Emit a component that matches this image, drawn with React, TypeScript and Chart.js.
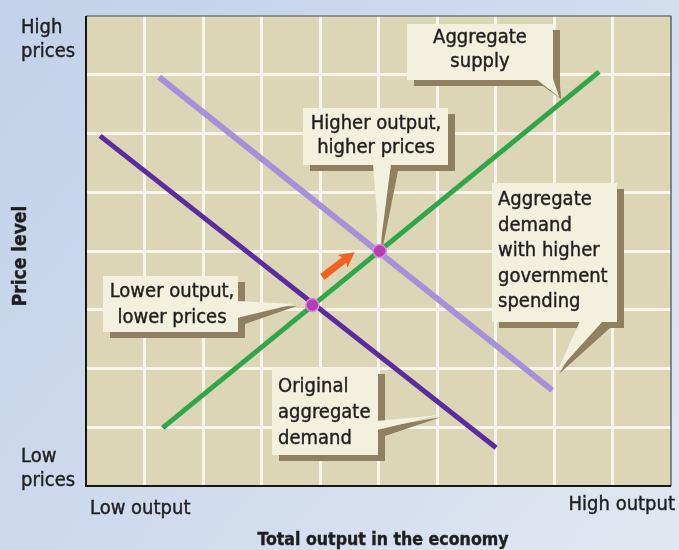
import React, { useEffect, useRef } from "react";
import { Chart, registerables } from "chart.js";

Chart.register(...registerables);

// ---- data (in chart units: output 0..10, price level 0..8) ----
const supplyX = [1.31, 8.77];
const supplyY = [0.99, 7.05];
const origDemandX = [0.24, 7.01];
const origDemandY = [5.96, 0.65];
const highDemandX = [1.25, 7.97];
const highDemandY = [6.96, 1.63];
const equilibriumX = [3.87, 5.02];
const equilibriumY = [3.08, 4.0];
const shiftArrowX = [4.04, 4.59];
const shiftArrowY = [3.56, 3.98];

const yAxisLabels = [["High", "prices"], ["Low", "prices"]];
const xAxisLabels = ["Low output", "High output"];
const xTitle = "Total output in the economy";
const yTitle = "Price level";

const calloutTexts = [
  ["Aggregate", "supply"],
  ["Higher output,", "higher prices"],
  ["Lower output,", "lower prices"],
  ["Aggregate", "demand", "with higher", "government", "spending"],
  ["Original", "aggregate", "demand"],
];
const calloutTipX = [8.09, 5.02, 3.57, 8.05, 6.04];
const calloutTipY = [6.62, 4.0, 3.1, 1.94, 1.21];

// ---- layout (pixels) ----
const calloutLayout = [
  { box: [407, 24, 553, 80], align: "center", tx: 480, by: 43, gap: 24, base: [[536, 80], [553, 80]] },
  { box: [303, 108, 448, 165], align: "center", tx: 376, by: 129, gap: 24, base: [[373, 165], [391, 165]] },
  { box: [103, 276, 238, 332], align: "center", tx: 172, by: 297, gap: 26, base: [[238, 301], [238, 318]] },
  { box: [492, 183, 617, 322], align: "left", tx: 498, by: 205, gap: 25.5, base: [[580, 322], [603, 322]] },
  { box: [272, 368, 378, 455], align: "left", tx: 278, by: 392, gap: 26, base: [[378, 421], [378, 430]] },
];

const FONT = "'Liberation Sans Narrow', 'DejaVu Sans Condensed', 'Liberation Sans', sans-serif";
const TEXT_COLOR = "#1f1f1f";

const pts = (xs: number[], ys: number[]) => xs.map((x, i) => ({ x, y: ys[i] }));

const drawText = (ctx: CanvasRenderingContext2D, s: string, x: number, y: number) => {
  ctx.fillText(s, x, y);
  ctx.strokeText(s, x, y);
};

const decorPlugin = {
  id: "decor",
  beforeDraw(chart: any) {
    const { ctx, width, height, chartArea: a } = chart;
    ctx.save();
    const g = ctx.createLinearGradient(0, 0, width, height);
    g.addColorStop(0, "#c2d2ea");
    g.addColorStop(0.6, "#d2ddee");
    g.addColorStop(1, "#e2e8f1");
    ctx.fillStyle = g;
    ctx.fillRect(0, 0, width, height);
    ctx.fillStyle = "#dcd5b6";
    ctx.fillRect(a.left, a.top, a.right - a.left, a.bottom - a.top);
    ctx.restore();
  },
  beforeDatasetsDraw(chart: any) {
    const { ctx, scales } = chart;
    const xs = scales.x, ys = scales.y;
    ctx.save();
    calloutLayout.forEach((c, i) => {
      const tip = [xs.getPixelForValue(calloutTipX[i]), ys.getPixelForValue(calloutTipY[i])];
      const [l, t, r, b] = c.box;
      const horiz = c.base[0][1] === c.base[1][1];
      ctx.fillStyle = "#8e8060";
      ctx.beginPath();
      ctx.rect(l + 7, t + 6, r - l, b - t);
      ctx.moveTo(c.base[0][0] + 7, c.base[0][1] + 6);
      ctx.lineTo(tip[0] + 2, tip[1] + 2);
      ctx.lineTo(c.base[1][0] + 7, c.base[1][1] + 6);
      ctx.closePath();
      ctx.fill();
      ctx.fillStyle = "#f3f0de";
      ctx.beginPath();
      ctx.rect(l, t, r - l, b - t);
      ctx.fill();
      ctx.beginPath();
      ctx.moveTo(c.base[0][0] - (horiz ? 0 : 1), c.base[0][1] - (horiz ? 1 : 0));
      ctx.lineTo(tip[0], tip[1]);
      ctx.lineTo(c.base[1][0] - (horiz ? 0 : 1), c.base[1][1] - (horiz ? 1 : 0));
      ctx.closePath();
      ctx.fill();
      ctx.fillStyle = TEXT_COLOR;
      ctx.strokeStyle = TEXT_COLOR;
      ctx.lineWidth = 0.4;
      ctx.font = `20px ${FONT}`;
      ctx.textAlign = c.align;
      ctx.textBaseline = "alphabetic";
      calloutTexts[i].forEach((line, k) => {
        drawText(ctx, line, c.tx, c.by + k * c.gap);
      });
    });
    ctx.restore();
  },
  afterDraw(chart: any) {
    const { ctx, chartArea: a, scales } = chart;
    const xs = scales.x, ys = scales.y;
    ctx.save();
    // frame
    ctx.strokeStyle = "#4a4a48";
    ctx.lineWidth = 1.2;
    ctx.beginPath();
    ctx.moveTo(a.left, a.top);
    ctx.lineTo(a.right, a.top);
    ctx.lineTo(a.right, a.bottom);
    ctx.stroke();
    ctx.strokeStyle = "#151515";
    ctx.lineWidth = 2;
    ctx.beginPath();
    ctx.moveTo(a.left, a.top);
    ctx.lineTo(a.left, a.bottom);
    ctx.lineTo(a.right, a.bottom);
    ctx.stroke();

    // shift arrow
    const x0 = xs.getPixelForValue(shiftArrowX[0]);
    const y0 = ys.getPixelForValue(shiftArrowY[0]);
    const x1 = xs.getPixelForValue(shiftArrowX[1]);
    const y1 = ys.getPixelForValue(shiftArrowY[1]);
    const ang = Math.atan2(y1 - y0, x1 - x0);
    const len = Math.hypot(x1 - x0, y1 - y0);
    ctx.translate(x0, y0);
    ctx.rotate(ang);
    ctx.fillStyle = "#f0621f";
    ctx.beginPath();
    ctx.moveTo(0, -3.5);
    ctx.lineTo(len - 13, -3.5);
    ctx.lineTo(len - 15, -8);
    ctx.lineTo(len, 0);
    ctx.lineTo(len - 15, 8);
    ctx.lineTo(len - 13, 3.5);
    ctx.lineTo(0, 3.5);
    ctx.closePath();
    ctx.fill();
    ctx.setTransform(1, 0, 0, 1, 0, 0);

    // axis texts
    ctx.fillStyle = TEXT_COLOR;
    ctx.strokeStyle = TEXT_COLOR;
    ctx.lineWidth = 0.4;
    ctx.font = `20px ${FONT}`;
    ctx.textAlign = "left";
    drawText(ctx, yAxisLabels[0][0], 21, 33);
    drawText(ctx, yAxisLabels[0][1], 21, 57);
    drawText(ctx, yAxisLabels[1][0], 21, 462);
    drawText(ctx, yAxisLabels[1][1], 21, 486);
    drawText(ctx, xAxisLabels[0], 90, 514);
    ctx.textAlign = "right";
    drawText(ctx, xAxisLabels[1], 675, 510);
    ctx.font = `bold 17.6px ${FONT}`;
    ctx.textAlign = "center";
    drawText(ctx, xTitle, 383, 545);
    ctx.font = `bold 19px ${FONT}`;
    ctx.translate(26, 256);
    ctx.rotate(-Math.PI / 2);
    drawText(ctx, yTitle, 0, 0);
    ctx.restore();
  },
};

export default function App() {
  const ref = useRef<HTMLCanvasElement | null>(null);
  useEffect(() => {
    document.body.style.margin = "0";
    const gridColor = (c: any) => {
      const v = c.tick?.value;
      return v === 0 || v === c.scale.max ? "rgba(0,0,0,0)" : "#f7f4ea";
    };
    const chart = new Chart(ref.current!, {
      type: "scatter",
      data: {
        datasets: [
          {
            label: "Original aggregate demand",
            data: pts(origDemandX, origDemandY),
            showLine: true,
            borderColor: "#5a2c9e",
            borderWidth: 5,
            pointRadius: 0,
            borderCapStyle: "butt",
            order: 3,
          },
          {
            label: "Aggregate demand with higher government spending",
            data: pts(highDemandX, highDemandY),
            showLine: true,
            borderColor: "#a690da",
            borderWidth: 6,
            pointRadius: 0,
            borderCapStyle: "butt",
            order: 2,
          },
          {
            label: "Aggregate supply",
            data: pts(supplyX, supplyY),
            showLine: true,
            borderColor: "#2fa64a",
            borderWidth: 5,
            pointRadius: 0,
            borderCapStyle: "butt",
            order: 1,
          },
          {
            label: "Equilibrium",
            data: pts(equilibriumX, equilibriumY),
            showLine: false,
            pointRadius: 6.5,
            pointBackgroundColor: "#b43eb5",
            pointBorderColor: "#d98ad9",
            pointBorderWidth: 1.5,
            order: 0,
          },
        ],
      },
      options: {
        responsive: false,
        animation: false,
        layout: { padding: { left: 86, top: 16, right: 7, bottom: 64 } },
        plugins: { legend: { display: false }, tooltip: { enabled: false } },
        scales: {
          x: {
            type: "linear",
            min: 0,
            max: 10,
            ticks: { stepSize: 1, display: false },
            grid: { color: gridColor, lineWidth: 3, drawTicks: false },
            border: { display: false },
            afterFit: (s: any) => { s.height = 0; },
          },
          y: {
            type: "linear",
            min: 0,
            max: 8,
            ticks: { stepSize: 1, display: false },
            grid: { color: gridColor, lineWidth: 3, drawTicks: false },
            border: { display: false },
            afterFit: (s: any) => { s.width = 0; },
          },
        },
      },
      plugins: [decorPlugin],
    } as any);
    return () => chart.destroy();
  }, []);
  return (
    <div style={{ position: "absolute", left: 0, top: 0, width: 679, height: 550 }}>
      <canvas ref={ref} width={679} height={550} style={{ display: "block" }} />
    </div>
  );
}
